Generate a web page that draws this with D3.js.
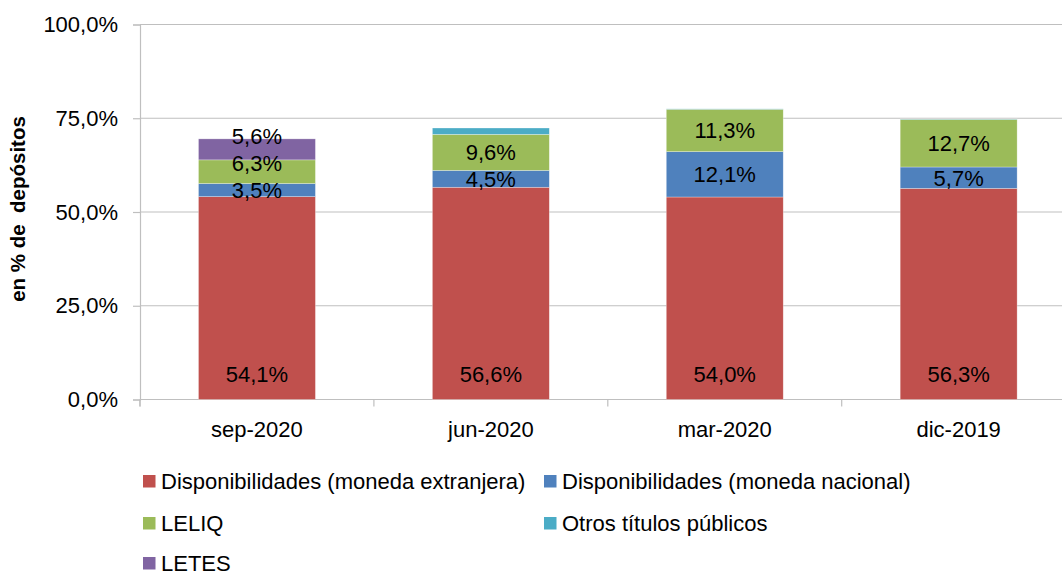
<!DOCTYPE html>
<html>
<head>
<meta charset="utf-8">
<script src="https://cdn.jsdelivr.net/npm/d3@7"></script>
<style>
  html, body { margin: 0; padding: 0; background: #fff; overflow: hidden; }
  svg { display: block; font-family: "Liberation Sans", Arial, sans-serif; }
</style>
</head>
<body>
<svg id="chart" width="1062" height="575"></svg>
<script>
// ---- data ----
const categories = ["sep-2020", "jun-2020", "mar-2020", "dic-2019"];
const seriesNames = [
  "Disponibilidades (moneda extranjera)",
  "Disponibilidades (moneda nacional)",
  "LELIQ",
  "Otros títulos públicos",
  "LETES"
];
const dispExtranjera = [54.1, 56.6, 54.0, 56.3];
const dispNacional   = [3.5, 4.5, 12.1, 5.7];
const leliq          = [6.3, 9.6, 11.3, 12.7];
const otrosTitulos   = [0.0, 1.7, 0.1, 0.1];
const letes          = [5.6, 0.0, 0.0, 0.0];
const showLabels     = [true, true, true, false, true];
const labelAnchor    = ["base", "center", "center", "center", "center"];
const yTicks = [0, 25, 50, 75, 100];
const colors = ["#C0504D", "#4F81BD", "#9BBB59", "#4BACC6", "#8064A2"];

const seriesValues = [dispExtranjera, dispNacional, leliq, otrosTitulos, letes];

// ---- formatting ----
const loc = d3.formatLocale({decimal: ",", thousands: ".", grouping: [3], currency: ["", ""]});
const f1 = loc.format(".1f");
const pct = v => f1(v) + "%";

// ---- layout ----
const svg = d3.select("#chart");
const pLeft = 140, pRight = 1075.6, pTop = 24.5, pBottom = 399.5;
const FS = 22;
const gridColor = "#BFBFBF";

const x = d3.scaleBand().domain(categories).range([pLeft, pRight]).paddingInner(0.5).paddingOuter(0.25);
const y = d3.scaleLinear().domain([0, 100]).range([pBottom, pTop]);

// table for stacking
const table = categories.map((c, i) => {
  const row = {cat: c};
  seriesNames.forEach((s, j) => row[s] = seriesValues[j][i]);
  return row;
});
const stacked = d3.stack().keys(seriesNames)(table);

// gridlines
svg.append("g").selectAll("line").data(yTicks.filter(t => t > 0)).join("line")
  .attr("x1", pLeft).attr("x2", pRight)
  .attr("y1", d => y(d)).attr("y2", d => y(d))
  .attr("stroke", gridColor).attr("stroke-width", 1.2);

// y axis
const yAxis = svg.append("g").attr("transform", `translate(${pLeft},0)`)
  .call(d3.axisLeft(y).tickValues(yTicks).tickSize(7).tickPadding(15).tickFormat(pct));
yAxis.select(".domain").attr("stroke", gridColor).attr("stroke-width", 1.2);
yAxis.selectAll(".tick line").attr("stroke", gridColor).attr("stroke-width", 1.2);
yAxis.selectAll("text").attr("font-size", FS).attr("fill", "#000").attr("font-family", "Liberation Sans, Arial, sans-serif");
svg.append("line").attr("x1", pLeft).attr("x2", pLeft).attr("y1", pBottom).attr("y2", pBottom + 7)
  .attr("stroke", gridColor).attr("stroke-width", 1.2);

// x axis baseline + boundary ticks
svg.append("line").attr("x1", pLeft).attr("x2", pRight).attr("y1", pBottom).attr("y2", pBottom)
  .attr("stroke", gridColor).attr("stroke-width", 1.2);
const step = x.step();
svg.append("g").selectAll("line").data(d3.range(categories.length + 1)).join("line")
  .attr("x1", i => pLeft + i * step).attr("x2", i => pLeft + i * step)
  .attr("y1", pBottom).attr("y2", pBottom + 7)
  .attr("stroke", gridColor).attr("stroke-width", 1.2);

const xAxis = svg.append("g").attr("transform", `translate(0,${pBottom})`)
  .call(d3.axisBottom(x).tickSize(0).tickPadding(22));
xAxis.select(".domain").remove();
xAxis.selectAll("text").attr("font-size", FS).attr("fill", "#000").attr("font-family", "Liberation Sans, Arial, sans-serif");

// bars
const layers = svg.append("g").selectAll("g").data(stacked).join("g")
  .attr("fill", (d, i) => colors[i]);
layers.selectAll("rect").data(d => d.filter(p => p[1] - p[0] > 0)).join("rect")
  .attr("x", p => x(p.data.cat))
  .attr("width", x.bandwidth())
  .attr("y", p => y(p[1]))
  .attr("height", p => y(p[0]) - y(p[1]))
  .attr("stroke", "#ffffff").attr("stroke-opacity", 0.5).attr("stroke-width", 0.6);

// data labels with simple upward collision avoidance
const labelG = svg.append("g");
categories.forEach((c, i) => {
  let prevY = Infinity;
  stacked.forEach((layer, j) => {
    const v = seriesValues[j][i];
    if (!showLabels[j] || v <= 0) return;
    const seg = layer[i];
    let cy;
    if (labelAnchor[j] === "base") {
      cy = y(seg[0]) - 25;
    } else {
      cy = (y(seg[0]) + y(seg[1])) / 2;
      if (cy > prevY - 27) cy = prevY - 27;
      prevY = cy;
    }
    labelG.append("text")
      .attr("x", x(c) + x.bandwidth() / 2)
      .attr("y", cy + FS * 0.36)
      .attr("text-anchor", "middle")
      .attr("font-size", FS)
      .attr("fill", "#000")
      .text(pct(v));
  });
});

// y title
svg.append("text")
  .attr("transform", "translate(25,209) rotate(-90)")
  .attr("text-anchor", "middle")
  .attr("font-size", 20.5)
  .attr("font-weight", "bold")
  .attr("fill", "#000")
  .style("white-space", "pre")
  .text("en % de  depósitos");

// legend
const legendPos = [
  {x: 143, y: 475}, {x: 544, y: 475},
  {x: 143, y: 517}, {x: 544, y: 517},
  {x: 143, y: 557}
];
const lg = svg.append("g").selectAll("g").data(seriesNames).join("g")
  .attr("transform", (d, i) => `translate(${legendPos[i].x},${legendPos[i].y})`);
lg.append("rect").attr("width", 12.5).attr("height", 12.5).attr("fill", (d, i) => colors[i]);
lg.append("text").attr("x", 18).attr("y", 13.5).attr("font-size", FS).attr("fill", "#000").text(d => d);
</script>
</body>
</html>
